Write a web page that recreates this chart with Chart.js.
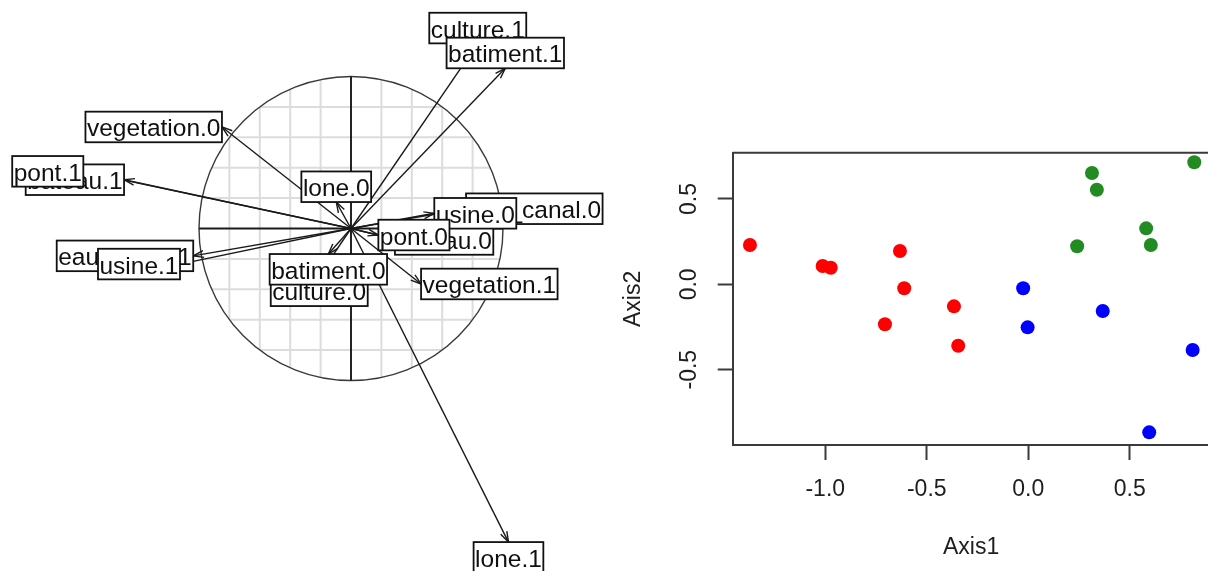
<!DOCTYPE html>
<html>
<head>
<meta charset="utf-8">
<script src="https://cdn.jsdelivr.net/npm/chart.js@4.4.0/dist/chart.umd.min.js"></script>
<style>
  html, body { margin: 0; padding: 0; background: #fff; overflow: hidden; width: 1208px; height: 571px; }
  #left { position: absolute; left: 0; top: 0; }
  #right { position: absolute; left: 600px; top: 0; }
</style>
</head>
<body>
<canvas id="left" width="610" height="571"></canvas>
<canvas id="right" width="615" height="571"></canvas>
<script>
// cercle des corrélations : modalités (ordre de tracé des étiquettes)
const varNames = ["culture.0", "culture.1", "batiment.0", "batiment.1", "vegetation.0", "vegetation.1",
                  "bateau.0", "bateau.1", "eau_canal.0", "eau_canal.1", "usine.0", "usine.1",
                  "pont.0", "pont.1", "lone.0", "lone.1"];
const coordX = [-0.209, 0.834, -0.149, 1.015, -0.849, 0.461, 0.289, -1.493, 0.757, -1.038, 0.548, -1.125, 0.180, -1.761, -0.097, 1.036];
const coordY = [-0.309, 1.218, -0.168, 1.054, 0.668, -0.365, -0.072, 0.321, 0.130, -0.180, 0.100, -0.234, -0.043, 0.376, 0.174, -2.063];
const gridSteps = [-0.8, -0.6, -0.4, -0.2, 0.2, 0.4, 0.6, 0.8];

// nuage des individus, 3 groupes
const group1X = [-1.371, -1.013, -0.973, -0.632, -0.611, -0.706, -0.366, -0.345];
const group1Y = [0.230, 0.107, 0.097, 0.195, -0.023, -0.234, -0.129, -0.360];
const group2X = [-0.025, -0.003, 0.367, 0.810, 0.596];
const group2Y = [-0.023, -0.252, -0.156, -0.385, -0.867];
const group3X = [0.314, 0.338, 0.241, 0.581, 0.604, 0.818];
const group3Y = [0.652, 0.554, 0.223, 0.328, 0.230, 0.715];
const axis1Ticks = [-1.0, -0.5, 0.0, 0.5];
const axis2Ticks = [-0.5, 0.0, 0.5];

const FONT = "'Liberation Sans', Arial, Helvetica, sans-serif";
const CX = 351, CY = 228.5, UNIT = 152;   // centre et rayon du cercle (px)

const corCircle = {
  id: "corCircle",
  beforeDatasetsDraw(chart) {
    const { ctx, scales: { x, y } } = chart;
    const ox = x.getPixelForValue(0), oy = y.getPixelForValue(0);
    const r = x.getPixelForValue(1) - ox;
    ctx.save();
    ctx.beginPath();
    ctx.arc(ox, oy, r, 0, 2 * Math.PI);
    ctx.clip();
    ctx.strokeStyle = "#dcdcdc";
    ctx.lineWidth = 2;
    gridSteps.forEach(v => {
      const px = x.getPixelForValue(v), py = y.getPixelForValue(v);
      ctx.beginPath(); ctx.moveTo(px, oy - r); ctx.lineTo(px, oy + r); ctx.stroke();
      ctx.beginPath(); ctx.moveTo(ox - r, py); ctx.lineTo(ox + r, py); ctx.stroke();
    });
    ctx.restore();

    ctx.save();
    ctx.strokeStyle = "#3a3a3a";
    ctx.lineWidth = 1.4;
    ctx.beginPath(); ctx.arc(ox, oy, r, 0, 2 * Math.PI); ctx.stroke();
    ctx.strokeStyle = "#1a1a1a";
    ctx.lineWidth = 1.9;
    ctx.beginPath();
    ctx.moveTo(ox - r, oy); ctx.lineTo(ox + r, oy);
    ctx.moveTo(ox, oy - r); ctx.lineTo(ox, oy + r);
    ctx.stroke();
    ctx.restore();
  },
  afterDatasetsDraw(chart) {
    const { ctx, scales: { x, y } } = chart;
    const ox = x.getPixelForValue(0), oy = y.getPixelForValue(0);
    ctx.save();
    // pointes de flèches
    ctx.strokeStyle = "#1a1a1a";
    ctx.lineWidth = 1.4;
    varNames.forEach((name, i) => {
      const tx = x.getPixelForValue(coordX[i]), ty = y.getPixelForValue(coordY[i]);
      const a = Math.atan2(ty - oy, tx - ox), len = 11, da = 18 * Math.PI / 180;
      ctx.beginPath();
      ctx.moveTo(tx - len * Math.cos(a - da), ty - len * Math.sin(a - da));
      ctx.lineTo(tx, ty);
      ctx.lineTo(tx - len * Math.cos(a + da), ty - len * Math.sin(a + da));
      ctx.stroke();
    });
    // étiquettes encadrées
    ctx.font = "24.5px " + FONT;
    ctx.textAlign = "center";
    ctx.textBaseline = "alphabetic";
    ctx.lineWidth = 1.8;
    varNames.forEach((name, i) => {
      const xr = coordX[i], yr = coordY[i];
      const px = x.getPixelForValue(xr), py = y.getPixelForValue(yr);
      const w = ctx.measureText(name).width + 3, h = 30.6;
      let bx = px, by = py;
      if (xr > yr && xr > -yr) bx = px + w / 2;
      else if (xr > yr) by = py + h / 2;
      else if (xr <= -yr) bx = px - w / 2;
      else by = py - h / 2;
      ctx.fillStyle = "#fff";
      ctx.fillRect(bx - w / 2, by - h / 2, w, h);
      ctx.strokeStyle = "#111";
      ctx.strokeRect(bx - w / 2, by - h / 2, w, h);
      ctx.fillStyle = "#101010";
      ctx.fillText(name, bx, by + 9.5);
    });
    ctx.restore();
  }
};

new Chart(document.getElementById("left"), {
  type: "scatter",
  data: {
    datasets: varNames.map((name, i) => ({
      label: name,
      data: [{ x: 0, y: 0 }, { x: coordX[i], y: coordY[i] }],
      showLine: true,
      borderColor: "#1a1a1a",
      borderWidth: 1.4,
      pointRadius: 0,
      fill: false
    }))
  },
  options: {
    responsive: false,
    animation: false,
    layout: { padding: 0, autoPadding: false },
    plugins: { legend: { display: false }, tooltip: { enabled: false } },
    scales: {
      x: { type: "linear", display: false, min: -CX / UNIT, max: (610 - CX) / UNIT },
      y: { type: "linear", display: false, min: -(571 - CY) / UNIT, max: CY / UNIT }
    }
  },
  plugins: [corCircle]
});

const frameAndLabels = {
  id: "frameAndLabels",
  afterDraw(chart) {
    const { ctx, chartArea: a, scales: { y } } = chart;
    ctx.save();
    ctx.strokeStyle = "#3a3a3a";
    ctx.lineWidth = 2;
    ctx.beginPath();
    ctx.moveTo(a.left, a.top); ctx.lineTo(a.right, a.top); ctx.lineTo(a.right, a.bottom);
    ctx.stroke();
    ctx.fillStyle = "#1e1e1e";
    ctx.font = "23px " + FONT;
    ctx.textAlign = "center";
    ctx.textBaseline = "middle";
    axis2Ticks.forEach(v => {
      ctx.save();
      ctx.translate(a.left - 43, y.getPixelForValue(v));
      ctx.rotate(-Math.PI / 2);
      ctx.fillText(v.toFixed(1), 0, 0);
      ctx.restore();
    });
    ctx.restore();
  }
};

const pts = (xs, ys) => xs.map((v, i) => ({ x: v, y: ys[i] }));
const dot = color => ({ backgroundColor: color, pointRadius: 7, pointHoverRadius: 7, borderWidth: 0 });

new Chart(document.getElementById("right"), {
  type: "scatter",
  data: {
    datasets: [
      { data: pts(group1X, group1Y), ...dot("#ff0000") },
      { data: pts(group2X, group2Y), ...dot("#0000ff") },
      { data: pts(group3X, group3Y), ...dot("#228b22") }
    ]
  },
  options: {
    responsive: false,
    animation: false,
    layout: { padding: { top: 152.7, right: 5.5, left: 0, bottom: 0 }, autoPadding: false },
    plugins: { legend: { display: false }, tooltip: { enabled: false } },
    scales: {
      x: {
        type: "linear", position: "bottom", min: -1.456, max: 0.893, bounds: "data",
        afterBuildTicks: s => { s.ticks = axis1Ticks.map(v => ({ value: v })); },
        afterFit: s => { s.height = 126; },
        ticks: { color: "#1e1e1e", font: { family: FONT, size: 23 }, padding: 15.5, maxRotation: 0, autoSkip: false,
                 callback: v => v.toFixed(1) },
        grid: { drawOnChartArea: false, drawTicks: true, tickLength: 15, tickWidth: 2, tickColor: "#3a3a3a" },
        border: { display: true, color: "#3a3a3a", width: 2 },
        title: { display: true, text: "Axis1", color: "#1e1e1e", font: { family: FONT, size: 23 }, padding: { top: 0, bottom: 9.7 } }
      },
      y: {
        type: "linear", position: "left", min: -0.941, max: 0.771, bounds: "data",
        afterBuildTicks: s => { s.ticks = axis2Ticks.map(v => ({ value: v })); },
        afterFit: s => { s.width = 132.7; },
        ticks: { display: false },
        grid: { drawOnChartArea: false, drawTicks: true, tickLength: 15, tickWidth: 2, tickColor: "#3a3a3a" },
        border: { display: true, color: "#3a3a3a", width: 2 },
        title: { display: true, text: "Axis2", color: "#1e1e1e", font: { family: FONT, size: 23 }, padding: { top: 19.5, bottom: 0 } }
      }
    }
  },
  plugins: [frameAndLabels]
});
</script>
</body>
</html>
